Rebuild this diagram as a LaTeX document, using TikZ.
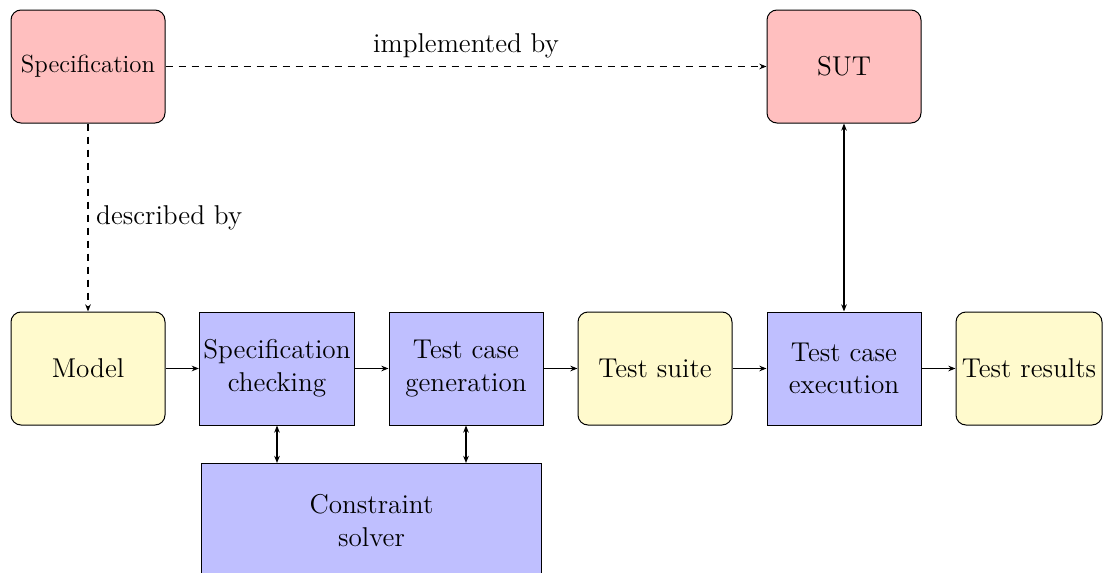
\documentclass[tikz,border=0pt]{standalone}
\usetikzlibrary{arrows.meta}
\definecolor{pinkfill}{RGB}{255,191,191}
\definecolor{yellowfill}{RGB}{255,250,205}
\definecolor{bluefill}{RGB}{191,191,255}
\begin{document}
\begin{tikzpicture}[x=0.5pt,y=-0.5pt,
  every node/.style={font=\fontsize{13.6}{16.3}\selectfont},
  base/.style={draw, line width=0.5pt, inner sep=2pt, align=center,
    minimum width=77pt, minimum height=56.5pt},
  redbox/.style={base, fill=pinkfill, rounded corners=5pt},
  yelbox/.style={base, fill=yellowfill, rounded corners=5pt},
  bluebox/.style={base, fill=bluefill},
  conn/.style={line width=0.55pt, -{Stealth[length=3.6pt,width=2.8pt]}},
  biconn/.style={line width=0.55pt, {Stealth[length=3.6pt,width=2.8pt]}-{Stealth[length=3.6pt,width=2.8pt]}},
  dconn/.style={conn, dash pattern=on 3.5pt off 3pt}
]
\useasboundingbox (0,0) rectangle (1104,573);
\begin{scope}
\clip (0,0) rectangle (1104,573);
\node[redbox, font=\fontsize{12.4}{14.9}\selectfont] (spec) at (88,66.5) {Specification};
\node[redbox] (sut) at (844,66.5) {SUT};
\node[yelbox] (model) at (88,368.5) {Model};
\node[bluebox] (check) at (277,368.5) {Specification\\checking};
\node[bluebox] (gen) at (466,368.5) {Test case\\generation};
\node[yelbox] (suite) at (655,368.5) {Test suite};
\node[bluebox] (exec) at (844,368.5) {Test case\\execution};
\node[yelbox, minimum width=73pt] (results) at (1029,368.5) {Test results};
\node[bluebox, minimum width=170pt, minimum height=57pt] (solver) at (371.5,520.5) {Constraint\\solver};

\draw[dconn] (spec) -- node[above=0.5pt] {implemented by} (sut);
\draw[dconn] (spec) -- node[right=0.5pt] {described by} (model);
\draw[conn] (model) -- (check);
\draw[conn] (check) -- (gen);
\draw[conn] (gen) -- (suite);
\draw[conn] (suite) -- (exec);
\draw[conn] (exec) -- (results);
\draw[biconn] (check) -- (check |- solver.north);
\draw[biconn] (gen) -- (gen |- solver.north);
\draw[biconn] (sut) -- (exec);
\end{scope}
\end{tikzpicture}
\end{document}
